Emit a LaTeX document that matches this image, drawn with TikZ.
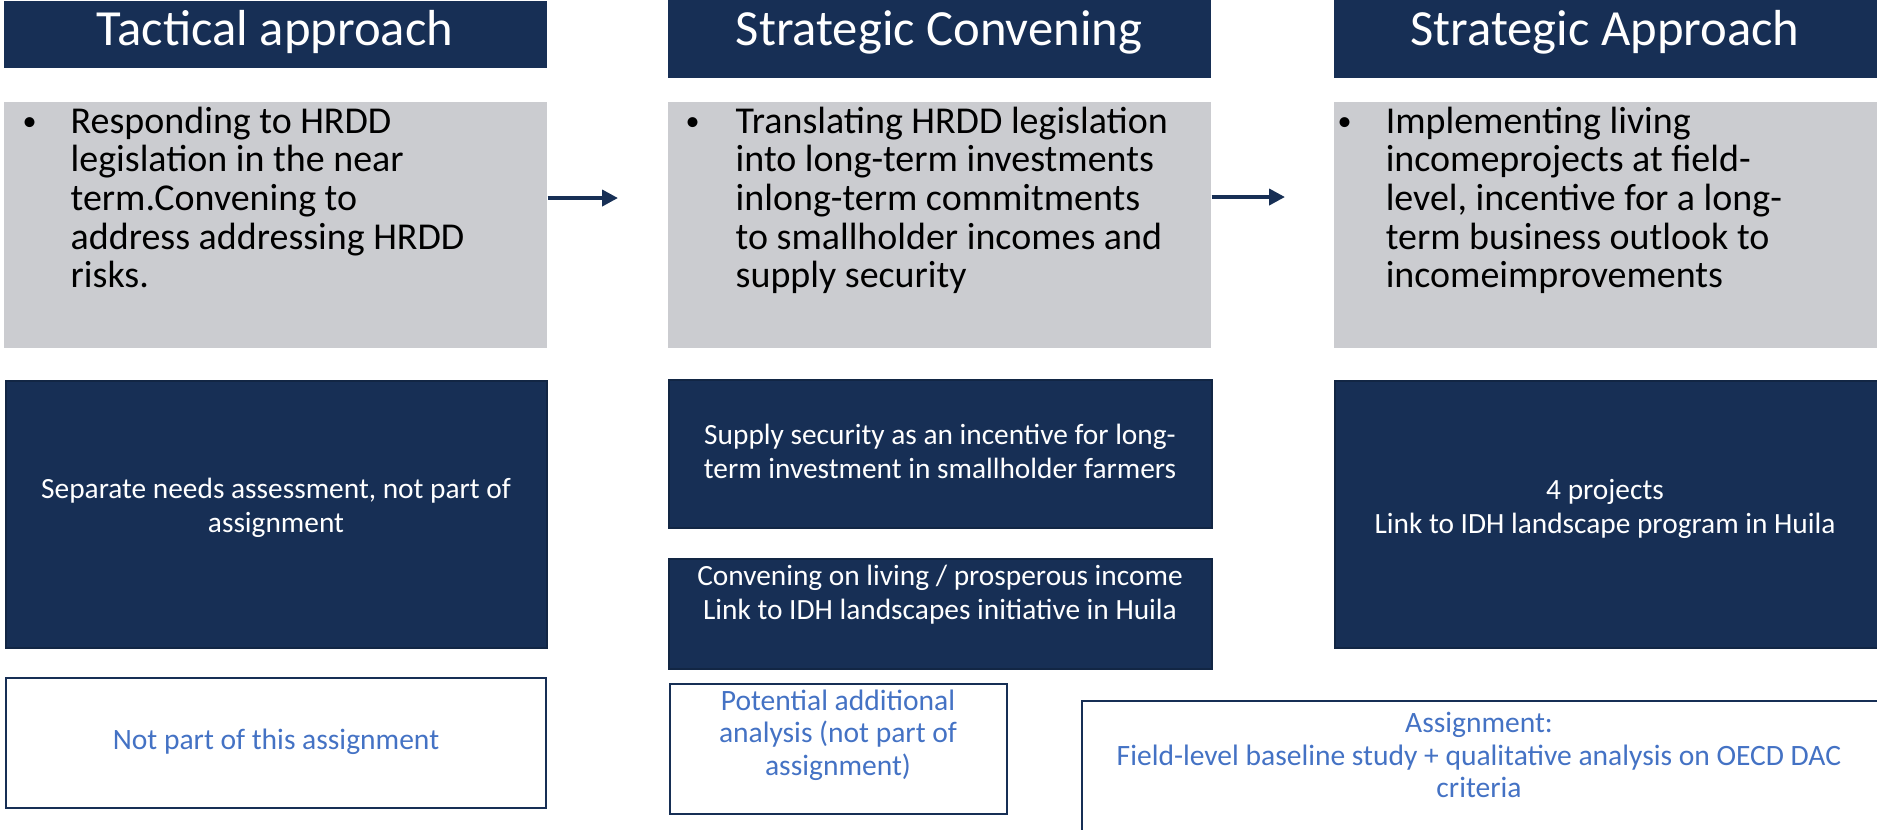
\documentclass[tikz,border=0pt]{standalone}
\usepackage{fontspec}
\setmainfont{Carlito}
\usepackage{tikz}
\usetikzlibrary{positioning,fit,arrows.meta}
\definecolor{navy}{HTML}{172F55}
\definecolor{panelgray}{HTML}{CBCCD0}
\definecolor{linkblue}{HTML}{4472C4}
\newcommand{\bulletlines}[2][0.5cm]{%
  \begin{tabular}[t]{@{}p{#1}@{}l@{}}{\fontsize{8}{8}\selectfont\raisebox{0.6pt}{\textbullet}} & \begin{tabular}[t]{@{}l@{}}#2\end{tabular}\end{tabular}}

\begin{document}
\begin{tikzpicture}[x=0.01cm, y=-0.01cm,
    header/.style={fill=navy, inner sep=0pt},
    panel/.style={fill=panelgray, inner sep=0pt},
    darkbox/.style={fill=navy, draw=navy!80!black, line width=0.6pt, inner sep=0pt},
    openbox/.style={draw=navy, line width=0.6pt, inner sep=0pt},
    headtext/.style={text=white, anchor=base, inner sep=0pt, font=\fontsize{14.4}{16}\selectfont},
    bullettext/.style={anchor=base west, inner sep=0pt, font=\fontsize{10.8}{11}\selectfont},
    darktext/.style={text=white, align=center, inner sep=0pt, font=\fontsize{8.35}{9.7}\selectfont},
    bluetext/.style={text=linkblue, align=center, inner sep=0pt, font=\fontsize{8.4}{9.2}\selectfont},
    flow/.style={navy, line width=1.1pt, -{Triangle[length=4.5pt,width=4.5pt]}}
  ]
  \useasboundingbox (0,0) rectangle (1877,829);

  % headers
  \node[header, fit={(4,1) (547,68)}] (h1) {};
  \node[header, fit={(668,0) (1211,78)}] (h2) {};
  \node[header, fit={(1334,0) (1877,78)}] (h3) {};
  \node[headtext] (h1t) at (275,45) {Tactical approach};
  \node[headtext] (h2t) at (939,45) {Strategic Convening};
  \node[headtext] (h3t) at (1605,45) {Strategic Approach};

  % grey panels
  \node[panel, fit={(4,102) (547,348)}] (g1) {};
  \node[panel, fit={(668,102) (1211,348)}] (g2) {};
  \node[panel, fit={(1334,102) (1877,348)}] (g3) {};
  \node[bullettext] (g1t) at (22,133) {\bulletlines[0.48cm]{Responding to HRDD\\ legislation in the near\\ term.Convening to\\ address addressing HRDD\\ risks.}};
  \node[bullettext] (g2t) at (685,133) {\bulletlines{Translating HRDD legislation\\ into long-term investments\\ inlong-term commitments\\ to smallholder incomes and\\ supply security}};
  \node[bullettext] (g3t) at (1337,133) {\bulletlines[0.48cm]{Implementing living\\ incomeprojects at field-\\ level, incentive for a long-\\ term business outlook to\\ incomeimprovements}};

  % arrows
  \coordinate (a1) at (618,198);
  \coordinate (a2) at (1285,197);
  \draw[flow] (g1.east |- a1) -- (a1);
  \draw[flow] (g2.east |- a2) -- (a2);

  % dark boxes
  \node[darkbox, fit={(6,381) (547,648)}] (d1) {};
  \node[darkbox, fit={(669,380) (1212,528)}] (d2) {};
  \node[darkbox, fit={(669,559) (1212,669)}] (d3) {};
  \node[darkbox, fit={(1335,381) (1880,648)}] (d4) {};
  \node[darktext] (d1t) at (276,508) {Separate needs assessment, not part of\\ assignment};
  \node[darktext] (d2t) at (940,451) {Supply security as an incentive for long-\\ term investment in smallholder farmers};
  \node[darktext] (d3t) at (940,595) {Convening on living / prosperous income\\ Link to IDH landscapes initiative in Huila};
  \node[darktext] (d4t) at (1605,509) {4 projects\\ Link to IDH landscape program in Huila};

  % scope boxes
  \node[openbox, fit={(6,678) (546,808)}] (w1) {};
  \node[openbox, fit={(670,684) (1007,814)}] (w2) {};
  \node[openbox, fit={(1082,701) (1890,840)}] (w3) {};
  \node[bluetext] (w1t) at (276,742) {Not part of this assignment};
  \node[bluetext] (w2t) at (838,735) {Potential additional\\ analysis (not part of\\ assignment)};
  \node[bluetext] (w3t) at (1479,755) {Assignment:\\ Field-level baseline study + qualitative analysis on OECD DAC\\ criteria};
\end{tikzpicture}
\end{document}
